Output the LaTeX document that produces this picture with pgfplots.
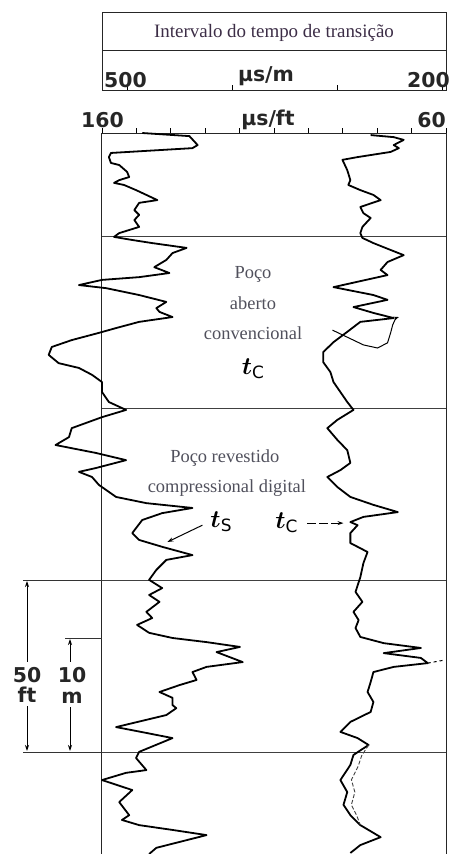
\documentclass[border=0pt]{standalone}
\usepackage{pgfplots}
\pgfplotsset{compat=1.18}
\usepackage{bm}
\usepackage{fontspec}
\setmainfont{Liberation Serif}
\newfontfamily\logfont{DejaVu Sans}[BoldFont={DejaVu Sans Bold}]
\usetikzlibrary{arrows.meta}
\definecolor{titlecol}{RGB}{60,45,70}
\definecolor{labcol}{RGB}{80,80,92}
\newcommand\hdr{\logfont\bfseries\fontsize{20.5}{21}\selectfont}

\pgfplotstableread{
v d
148.3 0
134.6 0.9
132.2 3.5
133.7 4.4
157.4 5.8
158.0 7.0
157.4 8.7
155.0 9.3
152.7 11.3
152.1 12.8
155.0 13.7
156.5 14.5
153.6 15.1
150.1 16.6
147.1 18.0
143.9 19.5
149.2 20.3
150.6 22.4
149.2 23.8
150.6 25.3
149.2 27.3
152.1 28.2
155.0 29.1
156.5 30.2
151.2 31.1
145.4 32.0
135.4 33.4
139.5 34.9
141.3 36.9
144.8 39.0
140.4 40.7
149.2 41.9
160.0 42.7
166.7 44.2
158.8 45.1
149.2 47.1
141.3 49.1
144.2 50.9
143.3 52.0
139.5 53.5
149.2 54.9
155.9 56.7
160.9 58.1
168.8 60.2
174.6 62.2
175.5 64.5
172.6 66.9
166.7 68.3
162.9 70.3
160.0 72.4
160.0 75.3
158.0 78.2
153.0 80.5
160.0 82.6
168.8 85.8
169.6 88.4
173.5 90.7
161.8 93.0
153.0 95.1
161.8 97.4
166.7 98.5
162.9 100.0
160.9 102.3
155.9 105.8
147.1 107.6
133.7 109.0
142.5 110.5
148.3 112.5
151.2 116.3
149.2 118.3
142.5 120.3
133.7 122.7
141.3 124.1
144.2 127.0
146.3 129.9
142.5 132.3
146.3 134.3
143.3 136.3
147.1 139.2
145.4 141.0
149.8 143.0
146.3 145.3
139.5 146.8
129.6 148.0
119.9 149.4
126.7 150.9
119.1 153.8
129.6 155.2
133.7 156.7
132.5 159.0
137.5 160.5
143.3 162.5
139.5 164.2
139.5 166.3
138.4 167.2
141.3 169.2
155.9 172.7
147.1 174.4
139.5 175.9
149.2 179.9
150.1 181.7
147.1 185.2
153.0 186.0
160.0 188.1
151.2 191.0
155.0 194.5
152.1 198.3
154.2 199.7
149.2 201.2
139.5 202.6
129.6 204.1
137.5 206.1
144.2 207.8
146.3 209.6
}\shear

\pgfplotstableread{
v d
81.9 0.6
75.2 1.2
72.3 2.0
75.2 3.5
73.7 4.4
76.1 5.5
85.7 7.0
90.1 7.8
88.7 10.8
87.8 13.7
88.4 15.1
84.9 16.6
81.1 18.0
79.0 19.5
84.9 21.5
84.0 23.3
81.9 24.7
84.3 27.3
84.9 29.1
84.3 30.5
81.1 32.0
76.1 34.0
72.3 35.5
77.0 37.5
79.0 39.8
77.0 41.3
92.7 44.8
81.1 47.1
77.0 48.5
86.9 50.6
81.1 52.3
75.2 53.8
84.9 54.9
88.7 57.8
92.7 60.8
95.7 63.7
95.7 66.6
93.6 69.5
92.7 72.4
90.7 75.3
88.7 78.2
86.9 80.5
91.6 83.4
94.5 85.8
91.6 89.2
88.7 92.2
87.8 95.9
90.7 98.0
94.5 100.0
91.6 102.9
87.8 105.8
81.1 108.1
74.0 110.2
84.0 111.6
87.8 113.1
85.7 114.0
87.8 116.3
87.8 119.2
82.8 121.8
84.0 125.0
84.9 129.1
86.3 133.4
84.3 136.3
86.9 139.2
85.4 141.6
86.3 143.9
84.9 146.5
78.1 148.3
67.3 149.7
78.1 151.2
67.3 152.6
65.3 154.1
75.2 155.2
81.1 156.7
81.9 159.6
82.8 162.5
81.1 165.4
81.9 168.3
87.8 171.2
90.7 174.1
85.7 175.9
82.5 177.9
86.9 180.8
87.8 183.7
90.7 188.1
88.7 191.6
89.8 195.3
87.8 198.3
84.9 201.2
79.0 204.7
84.9 207.0
87.8 209.3
}\comp

\pgfplotstableread{
v d
93.0 57.3
84.0 61.6
79.9 62.5
77.0 61.0
76.1 58.1
75.5 55.8
74.6 53.8
73.7 53.5
}\loopc

\pgfplotstableread{
v d
82.5 177.9
84.5 181.0
85.5 184.0
87.5 188.0
86.5 191.6
87.5 195.3
86.0 198.3
84.9 201.2
}\comptwo

\begin{document}
\begin{tikzpicture}
\useasboundingbox (0bp,0bp) rectangle (466bp,-854bp);
\begin{axis}[
  at={(102bp,-133bp)}, anchor=north west,
  width=344bp, height=721bp, scale only axis,
  xmin=60, xmax=160, x dir=reverse,
  ymin=0, ymax=209.6, y dir=reverse,
  clip=false,
  axis line style={line width=1bp, black!85},
  xtick={60,70,...,160}, xtick pos=right, xticklabels={},
  tick align=outside, major tick length=5bp,
  xtick style={line width=0.9bp, black},
  ytick={30,80,130,180}, yticklabels={}, ymajorgrids,
  ytick style={draw=none},
  grid style={line width=1.1bp, black!75},
]
\addplot[line width=1.8bp, black, line join=round] table[x=v,y=d] {\shear};
\addplot[line width=1.8bp, black, line join=round] table[x=v,y=d] {\comp};
\addplot[line width=0.9bp, black!75, dash pattern=on 4bp off 2bp] table[x=v,y=d] {\comptwo};
\addplot[line width=1bp, black, -{Stealth[length=5bp,width=4bp]}] table[x=v,y=d] {\loopc};
\addplot[line width=1bp, black, dashed] coordinates {(65.3,154.1) (60.3,153.2)};

\node[font=\fontsize{18.5}{18}\selectfont, text=labcol, anchor=base] at (axis cs:116.1,42.4) {Poço};
\node[font=\fontsize{18.5}{18}\selectfont, text=labcol, anchor=base] at (axis cs:116.1,51.2) {aberto};
\node[font=\fontsize{18.5}{18}\selectfont, text=labcol, anchor=base] at (axis cs:116.1,59.9) {convencional};
\node[font=\fontsize{18.5}{18}\selectfont, text=labcol, anchor=base] at (axis cs:124.3,95.9) {Poço revestido};
\node[font=\fontsize{18.5}{18}\selectfont, text=labcol, anchor=base] at (axis cs:123.7,104.6) {compressional digital};

\node at (axis cs:116.1,68.5) {\fontsize{30}{30}\selectfont$\bm{t}$\raisebox{-4bp}{\logfont\fontsize{17}{17}\selectfont C}};
\node at (axis cs:125.4,113.1) {\fontsize{30}{30}\selectfont$\bm{t}$\raisebox{-4bp}{\logfont\fontsize{17}{17}\selectfont S}};
\node at (axis cs:106.4,113.4) {\fontsize{30}{30}\selectfont$\bm{t}$\raisebox{-4bp}{\logfont\fontsize{17}{17}\selectfont C}};
\draw[line width=1bp, dash pattern=on 9bp off 3bp, -{Stealth[length=6bp,width=4bp]}] (axis cs:100.4,113.4) -- (axis cs:89.8,113.4);
\draw[line width=1bp, -{Stealth[length=6bp,width=4bp]}] (axis cs:130.8,114.0) -- (axis cs:141.0,118.9);
\end{axis}

\begin{scope}[x=1bp,y=1bp]
\draw[line width=1bp, black!85] (102,-12) rectangle (446,-90);
\draw[line width=1bp, black!85] (102,-50) -- (446,-50);
\foreach \xx in {127.2,232.4,337.5,442.7} \draw[line width=0.9bp] (\xx,-90) -- (\xx,-85);
\node[font=\fontsize{19}{19}\selectfont, text=titlecol, anchor=base] at (274,-37) {Intervalo do tempo de transição};
\node[font=\hdr, anchor=base west, inner sep=0, text=black!85] at (104,-87) {500};
\node[font=\hdr, anchor=base east, inner sep=0, text=black!85] at (450,-87) {200};
\node[font=\hdr, anchor=base, inner sep=0, text=black!85] at (266,-81) {μs/m};
\node[font=\hdr, anchor=base east, inner sep=0, text=black!85] at (124,-127) {160};
\node[font=\hdr, anchor=base east, inner sep=0, text=black!85] at (446,-127) {60};
\node[font=\hdr, anchor=base, inner sep=0, text=black!85] at (268,-125) {μs/ft};

\draw[line width=1bp, black!80] (23,-580) -- (102,-580);
\draw[line width=1bp, black!80] (23,-752) -- (102,-752);
\draw[line width=1bp, black!80] (65,-638) -- (102,-638);
\draw[line width=0.9bp, {Stealth[length=6bp,width=4bp]}-] (27,-581) -- (27,-662);
\draw[line width=0.9bp, -{Stealth[length=6bp,width=4bp]}] (27,-706) -- (27,-751);
\draw[line width=0.9bp, {Stealth[length=6bp,width=4bp]}-] (70,-639) -- (70,-662);
\draw[line width=0.9bp, -{Stealth[length=6bp,width=4bp]}] (70,-707) -- (70,-751);
\node[font=\hdr, anchor=base, inner sep=0, text=black!85] at (27,-682) {50};
\node[font=\hdr, anchor=base, inner sep=0, text=black!85] at (27,-702) {ft};
\node[font=\hdr, anchor=base, inner sep=0, text=black!85] at (72,-682) {10};
\node[font=\hdr, anchor=base, inner sep=0, text=black!85] at (72,-703) {m};
\end{scope}
\end{tikzpicture}
\end{document}
